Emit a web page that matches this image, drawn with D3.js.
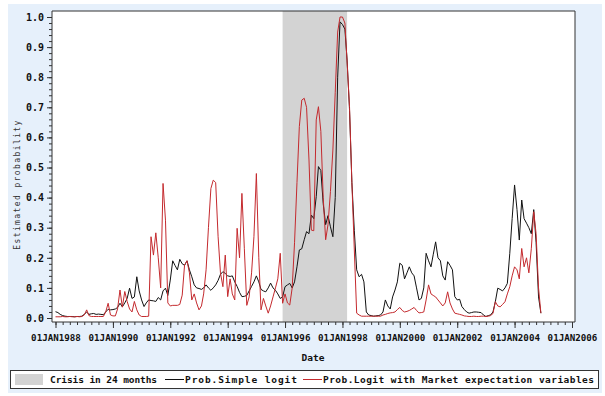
<!DOCTYPE html>
<html>
<head>
<meta charset="utf-8">
<script src="https://cdn.jsdelivr.net/npm/d3@7"></script>
<style>
  html, body { margin: 0; padding: 0; background: #ffffff; }
  svg { display: block; }
  .mono { font-family: "DejaVu Sans Mono", "Liberation Mono", monospace; }
</style>
</head>
<body>
<svg id="chart" width="605" height="396"></svg>
<script>
// Monthly estimated crisis probabilities, January 1988 onwards
const firstMonth = "1988-01-01";

const simpleLogit = [
  0.021, 0.018, 0.012, 0.008, 0.006, 0.005, 0.005, 0.005, 0.004, 0.005, 0.005, 0.006,
  0.012, 0.020, 0.012, 0.014, 0.015, 0.012, 0.013, 0.012, 0.011, 0.020, 0.029, 0.027,
  0.028, 0.030, 0.035, 0.049, 0.037, 0.050, 0.065, 0.099, 0.065, 0.070, 0.137, 0.090,
  0.060, 0.038, 0.050, 0.060, 0.058, 0.057, 0.055, 0.068, 0.060, 0.090, 0.099, 0.075,
  0.126, 0.190, 0.175, 0.160, 0.195, 0.180, 0.175, 0.190, 0.160, 0.137, 0.110, 0.100,
  0.098, 0.095, 0.100, 0.110, 0.100, 0.092, 0.100, 0.110, 0.125, 0.145, 0.154, 0.148,
  0.140, 0.138, 0.140, 0.120, 0.105, 0.085, 0.071, 0.072, 0.075, 0.090, 0.105, 0.120,
  0.140, 0.120, 0.095, 0.090, 0.087, 0.100, 0.116, 0.100, 0.092, 0.080, 0.065, 0.070,
  0.104, 0.110, 0.115, 0.100, 0.120, 0.170, 0.226, 0.230, 0.260, 0.287, 0.280, 0.342,
  0.330, 0.403, 0.503, 0.490, 0.380, 0.310, 0.340, 0.303, 0.270, 0.400, 0.800, 0.984,
  0.975, 0.960, 0.857, 0.690, 0.450, 0.290, 0.160, 0.137, 0.145, 0.120, 0.020, 0.010,
  0.008, 0.006, 0.007, 0.008, 0.010, 0.020, 0.060, 0.040, 0.030, 0.070, 0.093, 0.120,
  0.182, 0.175, 0.130, 0.150, 0.170, 0.150, 0.140, 0.100, 0.060, 0.065, 0.100, 0.215,
  0.190, 0.170, 0.210, 0.253, 0.200, 0.190, 0.140, 0.126, 0.187, 0.175, 0.160, 0.071,
  0.060, 0.062, 0.038, 0.028, 0.020, 0.016, 0.018, 0.020, 0.020, 0.019, 0.018, 0.010,
  0.005, 0.008, 0.010, 0.020, 0.054, 0.099, 0.095, 0.090, 0.100, 0.115, 0.215, 0.330,
  0.442, 0.360, 0.259, 0.392, 0.330, 0.315, 0.300, 0.280, 0.360, 0.250, 0.070, 0.016
];

const marketLogit = [
  0.004, 0.004, 0.004, 0.005, 0.004, 0.004, 0.005, 0.004, 0.004, 0.005, 0.004, 0.005,
  0.010, 0.027, 0.008, 0.005, 0.005, 0.005, 0.005, 0.005, 0.005, 0.020, 0.049, 0.010,
  0.007, 0.007, 0.030, 0.093, 0.036, 0.088, 0.055, 0.030, 0.020, 0.055, 0.027, 0.010,
  0.005, 0.005, 0.005, 0.006, 0.270, 0.209, 0.283, 0.200, 0.100, 0.447, 0.325, 0.050,
  0.040, 0.042, 0.042, 0.042, 0.045, 0.076, 0.176, 0.190, 0.150, 0.060, 0.080, 0.050,
  0.027, 0.040, 0.080, 0.160, 0.300, 0.430, 0.458, 0.450, 0.270, 0.150, 0.104, 0.209,
  0.071, 0.130, 0.080, 0.060, 0.298, 0.200, 0.414, 0.230, 0.042, 0.070, 0.150, 0.270,
  0.480, 0.200, 0.027, 0.065, 0.040, 0.016, 0.040, 0.070, 0.100, 0.130, 0.215, 0.049,
  0.080, 0.050, 0.043, 0.100, 0.250, 0.450, 0.636, 0.724, 0.730, 0.700, 0.525, 0.292,
  0.290, 0.658, 0.702, 0.620, 0.400, 0.260, 0.310, 0.420, 0.558, 0.750, 0.950, 1.000,
  1.000, 0.980, 0.850, 0.700, 0.450, 0.226, 0.016, 0.010, 0.006, 0.006, 0.006, 0.006,
  0.006, 0.006, 0.006, 0.006, 0.006, 0.010, 0.012, 0.015, 0.017, 0.018, 0.020, 0.028,
  0.035, 0.025, 0.020, 0.022, 0.025, 0.030, 0.035, 0.025, 0.017, 0.018, 0.020, 0.060,
  0.110, 0.080, 0.075, 0.070, 0.060, 0.050, 0.040, 0.050, 0.087, 0.050, 0.030, 0.016,
  0.014, 0.012, 0.010, 0.007, 0.006, 0.005, 0.005, 0.006, 0.005, 0.005, 0.006, 0.006,
  0.005, 0.006, 0.008, 0.015, 0.054, 0.040, 0.037, 0.045, 0.054, 0.080, 0.104, 0.140,
  0.170, 0.160, 0.130, 0.231, 0.170, 0.200, 0.150, 0.230, 0.353, 0.280, 0.100, 0.016
];

// Crisis window (shaded): months flagged "crisis in 24 months"
const crisisStart = "1995-12-01";
const crisisEnd = "1998-03-01";

const xTickYears = [1988, 1990, 1992, 1994, 1996, 1998, 2000, 2002, 2004, 2006];
const yTickValues = [0, 0.1, 0.2, 0.3, 0.4, 0.5, 0.6, 0.7, 0.8, 0.9, 1.0];

const legendItems = ["Crisis in 24 months", "Prob.Simple logit", "Prob.Logit with Market expectation variables"];

const colors = { simple: "#111111", market: "#c42a2e", crisis: "#d3d3d3", panel: "#e6f0fb" };

// ---------------------------------------------------------------
const svg = d3.select("#chart");

const frame = { left: 52, right: 575, top: 11, bottom: 322 };

const parse = d3.timeParse("%Y-%m-%d");
const t0 = parse(firstMonth);
const monthDate = i => d3.timeMonth.offset(t0, i);

const x = d3.scaleTime()
  .domain([new Date(1988, 0, 1), new Date(2006, 0, 1)])
  .range([55.5, 572]);

const y = d3.scaleLinear()
  .domain([0, 1])
  .range([318, 17]);

// panel background
svg.append("rect")
  .attr("x", 8).attr("y", 4)
  .attr("width", 594).attr("height", 389)
  .attr("fill", colors.panel);

// plot area
svg.append("rect")
  .attr("x", frame.left).attr("y", frame.top)
  .attr("width", frame.right - frame.left).attr("height", frame.bottom - frame.top)
  .attr("fill", "#ffffff");

// crisis shading
svg.append("rect")
  .attr("x", x(parse(crisisStart)))
  .attr("y", frame.top)
  .attr("width", x(parse(crisisEnd)) - x(parse(crisisStart)))
  .attr("height", frame.bottom - frame.top)
  .attr("fill", colors.crisis);

// series lines
const line = d3.line()
  .x((d, i) => x(monthDate(i)))
  .y(d => y(d));

svg.append("path")
  .datum(simpleLogit)
  .attr("d", line)
  .attr("fill", "none")
  .attr("stroke", colors.simple)
  .attr("stroke-width", 1)
  .attr("stroke-linejoin", "round");

svg.append("path")
  .datum(marketLogit)
  .attr("d", line)
  .attr("fill", "none")
  .attr("stroke", colors.market)
  .attr("stroke-width", 1)
  .attr("stroke-linejoin", "round");

// frame: top and right borders
svg.append("path")
  .attr("d", `M${frame.left},${frame.top}H${frame.right}V${frame.bottom}`)
  .attr("fill", "none")
  .attr("stroke", "#333")
  .attr("stroke-width", 1);

// y axis
const yMinor = d3.range(0, 1.0001, 0.02);
const yAxisMinor = d3.axisLeft(y).tickValues(yMinor).tickSize(3).tickFormat("");
const gyMinor = svg.append("g").attr("transform", `translate(${frame.left},0)`).call(yAxisMinor);
gyMinor.select(".domain").remove();
gyMinor.selectAll("line").attr("stroke", "#333");

const yAxis = d3.axisLeft(y).tickValues(yTickValues).tickSize(5).tickPadding(3)
  .tickFormat(d3.format(".1f"));
const gy = svg.append("g").attr("transform", `translate(${frame.left},0)`).call(yAxis);
gy.select(".domain").attr("d", `M0,${frame.top}V${frame.bottom}`).attr("stroke", "#333");
gy.selectAll("line").attr("stroke", "#333");
gy.selectAll("text")
  .attr("class", "mono")
  .attr("font-size", 10).attr("font-weight", "bold").attr("fill", "#111");

// x axis
const xMinor = d3.timeMonth.every(3).range(new Date(1988, 0, 1), new Date(2006, 0, 2));
const xAxisMinor = d3.axisBottom(x).tickValues(xMinor).tickSize(3).tickFormat("");
const gxMinor = svg.append("g").attr("transform", `translate(0,${frame.bottom})`).call(xAxisMinor);
gxMinor.select(".domain").remove();
gxMinor.selectAll("line").attr("stroke", "#333");

const fmt = d3.timeFormat("%d%b%Y");
const xAxis = d3.axisBottom(x)
  .tickValues(xTickYears.map(yr => new Date(yr, 0, 1)))
  .tickSize(6).tickPadding(6)
  .tickFormat(d => fmt(d).toUpperCase());
const gx = svg.append("g").attr("transform", `translate(0,${frame.bottom})`).call(xAxis);
gx.select(".domain").attr("d", `M${frame.left},0H${frame.right}`).attr("stroke", "#333");
gx.selectAll("line").attr("stroke", "#333");
gx.selectAll("text")
  .attr("class", "mono")
  .attr("font-size", 9.2).attr("font-weight", "bold").attr("fill", "#111");

// axis titles
svg.append("text")
  .attr("class", "mono")
  .attr("x", 313).attr("y", 361)
  .attr("text-anchor", "middle")
  .attr("font-size", 9.5).attr("font-weight", "bold").attr("fill", "#111")
  .text("Date");

svg.append("text")
  .attr("class", "mono")
  .attr("transform", `translate(20,${(frame.top + frame.bottom) / 2 + 18}) rotate(-90)`)
  .attr("text-anchor", "middle")
  .attr("font-size", 8).attr("fill", "#333")
  .attr("letter-spacing", 1.4)
  .text("Estimated probability");

// legend
const lg = svg.append("g");
lg.append("rect")
  .attr("x", 10.5).attr("y", 370.5).attr("width", 588).attr("height", 18)
  .attr("fill", "#ffffff").attr("stroke", "#333");
lg.append("rect")
  .attr("x", 15).attr("y", 374).attr("width", 28).attr("height", 11)
  .attr("fill", colors.crisis);

const legendText = (tx, len, str) => lg.append("text")
  .attr("class", "mono")
  .attr("x", tx).attr("y", 383)
  .attr("font-size", 9.5).attr("font-weight", "bold").attr("fill", "#111")
  .attr("textLength", len).attr("lengthAdjust", "spacing")
  .text(str);

legendText(50, 107, legendItems[0]);
lg.append("line").attr("x1", 165).attr("x2", 184).attr("y1", 379.5).attr("y2", 379.5)
  .attr("stroke", colors.simple);
legendText(185, 112, legendItems[1]);
lg.append("line").attr("x1", 303).attr("x2", 322).attr("y1", 379.5).attr("y2", 379.5)
  .attr("stroke", colors.market);
legendText(323, 271, legendItems[2]);
</script>
</body>
</html>
